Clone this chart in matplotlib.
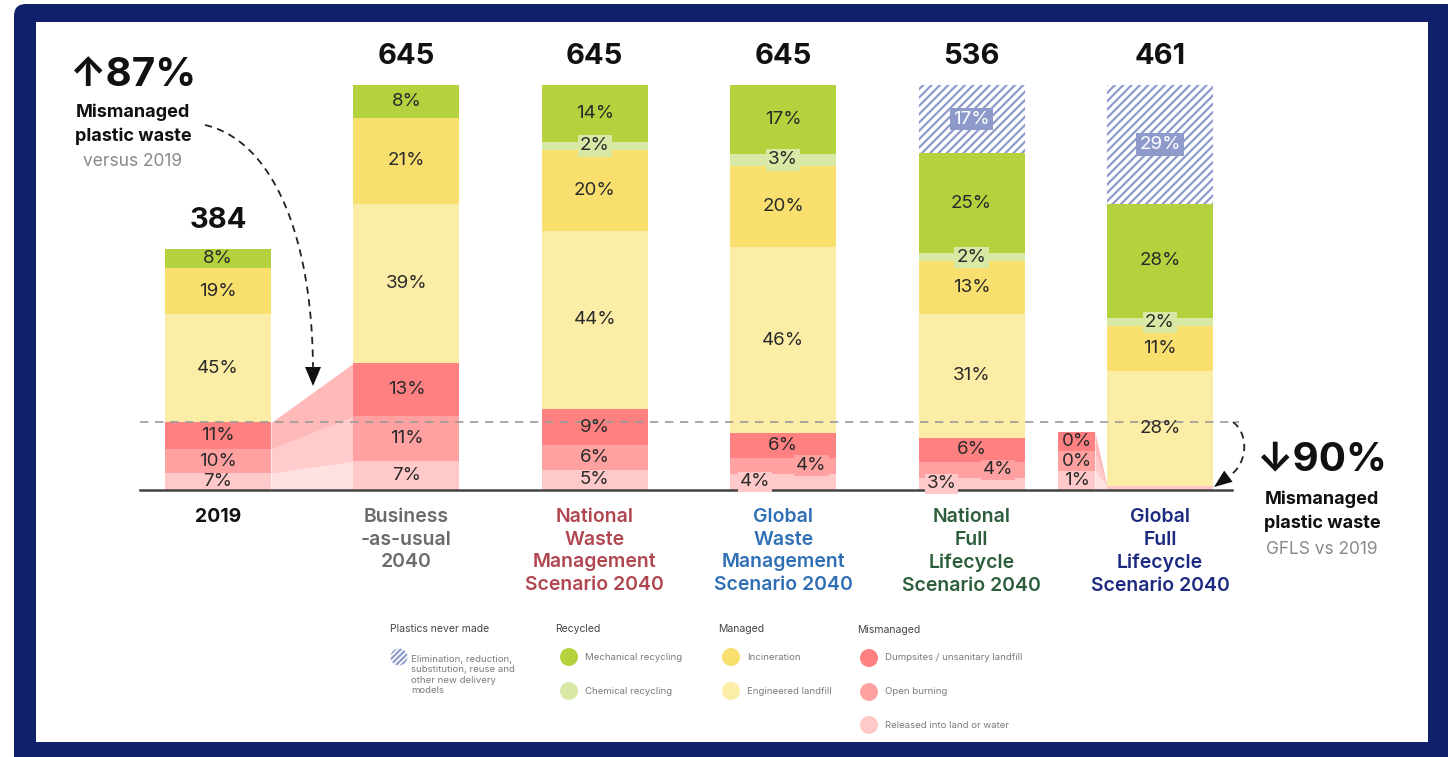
import numpy as np
import matplotlib
matplotlib.use('Agg')
import matplotlib.pyplot as plt
from matplotlib.patches import Rectangle, FancyBboxPatch, Circle, Polygon

plt.rcParams['font.family'] = ['Inter', 'DejaVu Sans']
plt.rcParams['hatch.linewidth'] = 1.6

# ---- data (percent of each bar, Mt totals) ----
categories = ['2019', 'Business\n-as-usual\n2040',
              'National\nWaste\nManagement\nScenario 2040',
              'Global\nWaste\nManagement\nScenario 2040',
              'National\nFull\nLifecycle\nScenario 2040',
              'Global\nFull\nLifecycle\nScenario 2040']
cat_colors = ['#111111', '#6b6b6b', '#b04650', '#2f6fb3', '#2d5e3c', '#1c2a80']
waste_totals = [384, 645, 645, 645, 536, 461]
bar_totals = [384, 645, 645, 645, 645, 645]   # incl. plastics never made

never_made = [0, 0, 0, 0, 17, 29]
mech = [8, 8, 14, 17, 25, 28]
chem = [0, 0, 2, 3, 2, 2]
incin = [19, 21, 20, 20, 13, 11]
landfill = [45, 39, 44, 46, 31, 28]
dumps = [11, 13, 9, 6, 6, 0]
burning = [10, 11, 6, 4, 4, 0]
released = [7, 7, 5, 4, 3, 1]

c_mech = '#b3d23e'
c_chem = '#d7e9a5'
c_incin = '#f8df6e'
c_landfill = '#fbeda6'
c_dumps = '#ff8080'
c_burning = '#ffa1a1'
c_released = '#ffc9c9'
c_hatch = '#8e9bca'

W, H = 1448, 757
fig = plt.figure(figsize=(W / 100, H / 100), dpi=100)

# frame
bg = fig.add_axes([0, 0, 1, 1], zorder=0)
bg.set_xlim(0, W)
bg.set_ylim(H, 0)
bg.axis('off')
bg.add_patch(FancyBboxPatch((14, 4), 1460, 780, boxstyle='round,pad=0,rounding_size=12',
                            fc='#10206a', ec='none'))
bg.add_patch(Rectangle((36, 22), 1392, 720, fc='white', ec='none'))

# main chart
ax = fig.add_axes([140 / W, (H - 490) / H, (1232 - 140) / W, (490 - 40) / H], zorder=1)
ax.patch.set_alpha(0)
x = np.arange(len(categories))
bw = 0.563

layers = [('released', released, c_released), ('burning', burning, c_burning),
          ('dumps', dumps, c_dumps), ('landfill', landfill, c_landfill),
          ('incin', incin, c_incin), ('chem', chem, c_chem),
          ('mech', mech, c_mech), ('never', never_made, 'white')]

col_sum = np.zeros(len(x))
for _, vals, _ in layers:
    col_sum += np.array(vals)

# label nudges for crowded small segments (dx in bar units)
nudge = {(3, 'burning'): 0.15, (3, 'released'): -0.15,
         (4, 'burning'): 0.14, (4, 'released'): -0.16}

bottom = np.zeros(len(x))
bounds = {}
for name, vals, color in layers:
    h = np.array(vals) / col_sum * np.array(bar_totals)
    if name == 'never':
        ax.bar(x, h, bottom=bottom, width=bw, facecolor='white', edgecolor=c_hatch,
               hatch='////', linewidth=0)
    else:
        ax.bar(x, h, bottom=bottom, width=bw, color=color, linewidth=0)
    for i in x:
        if vals[i] == 0 or (i == 5 and name in ('released', 'burning', 'dumps')):
            continue
        kw = dict(ha='center', va='center', fontsize=13.5, color='#2a2a2a')
        if name == 'chem':
            kw['bbox'] = dict(boxstyle='square,pad=0.12', fc=c_chem, ec='none')
        if name == 'never':
            kw['color'] = 'white'
            kw['bbox'] = dict(boxstyle='square,pad=0.15', fc=c_hatch, ec='none')
        dx = nudge.get((i, name), 0)
        if dx:
            kw['bbox'] = dict(boxstyle='square,pad=0.1', fc=color, ec='none')
        ax.text(i + dx, bottom[i] + h[i] / 2, f'{vals[i]}%', **kw)
    bounds[name] = (bottom.copy(), bottom + h)
    bottom = bottom + h

# totals above bars
for i in x:
    ax.text(i, bar_totals[i] + 33, str(waste_totals[i]), ha='center', va='baseline',
            fontsize=21, fontweight='bold', color='#111111')

# connector 2019 -> BAU for mismanaged layers
xa, xb = 0 + bw / 2, 1 - bw / 2
for name, col in [('released', c_released), ('burning', c_burning), ('dumps', c_dumps)]:
    lo, hi = bounds[name]
    ax.fill_between([xa, xb], [lo[0], lo[1]], [hi[0], hi[1]], color=col, alpha=0.55, lw=0)

# magnified callout of GFLS mismanaged
cx, cw, ch = 4.557, 0.196, 92
xc1, xc2 = cx + cw / 2, 5 - bw / 2
for k, (name, col) in enumerate([('released', c_released), ('burning', c_burning), ('dumps', c_dumps)]):
    vals = dict(released=released, burning=burning, dumps=dumps)[name]
    ax.bar(cx, ch / 3, bottom=k * ch / 3, width=cw, color=col, linewidth=0)
    ax.text(cx, k * ch / 3 + ch / 6, f'{vals[5]}%', ha='center', va='center',
            fontsize=13.5, color='#2a2a2a')
    lo, hi = bounds[name]
    ax.fill_between([xc1, xc2], [k * ch / 3, lo[5]], [(k + 1) * ch / 3, hi[5]],
                    color=col, alpha=0.55, lw=0)

# dashed 2019 mismanaged level
lvl = bounds['dumps'][1][0]
ax.plot([-0.414, 5.42], [lvl, lvl], color='#9a9a9a', lw=1.2, dashes=(5, 4), clip_on=False)

ax.set_xlim(-0.414, 5.382)
ax.set_ylim(0, 716.7)
ax.set_xticks(x, categories)
ax.tick_params(axis='x', length=0, pad=13, labelsize=14)
for lab, c in zip(ax.get_xticklabels(), cat_colors):
    lab.set_color(c)
    lab.set_fontweight('semibold')
    lab.set_linespacing(1.33)
ax.get_xticklabels()[0].set_fontweight('bold')
ax.set_yticks([])
for s in ['top', 'left', 'right']:
    ax.spines[s].set_visible(False)
ax.spines['bottom'].set_color('#444444')
ax.spines['bottom'].set_linewidth(1.8)

# overlay annotations
ov = fig.add_axes([0, 0, 1, 1], zorder=2)
ov.set_xlim(0, W)
ov.set_ylim(H, 0)
ov.axis('off')
ov.patch.set_alpha(0)

ov.text(133, 76, '↑87%', ha='center', va='center', fontsize=29, fontweight='bold', color='#111111')
ov.text(133, 112, 'Mismanaged', ha='center', va='center', fontsize=13, fontweight='bold', color='#111111')
ov.text(133, 136, 'plastic waste', ha='center', va='center', fontsize=13, fontweight='bold', color='#111111')
ov.text(133, 161, 'versus 2019', ha='center', va='center', fontsize=12.5, color='#8a8a8a')

ov.text(1321, 460, '↓90%', ha='center', va='center', fontsize=29, fontweight='bold', color='#111111')
ov.text(1322, 499, 'Mismanaged', ha='center', va='center', fontsize=13, fontweight='bold', color='#111111')
ov.text(1322, 523, 'plastic waste', ha='center', va='center', fontsize=13, fontweight='bold', color='#111111')
ov.text(1322, 549, 'GFLS vs 2019', ha='center', va='center', fontsize=12.5, color='#8a8a8a')

# curved dashed arrows
def bez(p0, p1, p2, p3, n=60):
    t = np.linspace(0, 1, n)[:, None]
    p0, p1, p2, p3 = map(np.array, (p0, p1, p2, p3))
    return (1 - t) ** 3 * p0 + 3 * (1 - t) ** 2 * t * p1 + 3 * (1 - t) * t ** 2 * p2 + t ** 3 * p3

c1 = bez((205, 125), (270, 140), (312, 230), (313, 368))
ov.plot(c1[:, 0], c1[:, 1], color='#222222', lw=1.3, dashes=(4, 3))
ov.add_patch(Polygon([(305, 367), (321, 367), (313, 386)], closed=True, fc='#111111', ec='none'))

c2 = bez((1233, 422), (1250, 435), (1247, 465), (1229, 476))
ov.plot(c2[:, 0], c2[:, 1], color='#222222', lw=1.3, dashes=(4, 3))
d = np.array([-0.8, 0.6])
tip = np.array([1214, 487])
base = tip - 18 * d
perp = np.array([0.6, 0.8]) * 7
ov.add_patch(Polygon([tip, base + perp, base - perp], closed=True, fc='#111111', ec='none'))

# legend
hdr = dict(fontsize=7.5, color='#444444', va='center', ha='left')
itm = dict(fontsize=6.9, color='#7a7a7a', va='center', ha='left')
ov.text(390, 629, 'Plastics never made', **hdr)
ov.text(555, 629, 'Recycled', **hdr)
ov.text(718, 629, 'Managed', **hdr)
ov.text(857, 630, 'Mismanaged', **hdr)

ov.add_patch(Circle((399, 657), 8.5, fc='white', ec=c_hatch, hatch='//////', lw=0))
ov.text(411, 675, 'Elimination, reduction,\nsubstitution, reuse and\nother new delivery\nmodels',
        linespacing=1.2, **itm)

leg_items = [(569, 657, c_mech, 'Mechanical recycling'), (569, 691, c_chem, 'Chemical recycling'),
             (731, 657, c_incin, 'Incineration'), (731, 691, c_landfill, 'Engineered landfill'),
             (869, 658, c_dumps, 'Dumpsites / unsanitary landfill'),
             (869, 692, c_burning, 'Open burning'), (869, 725, c_released, 'Released into land or water')]
for cxp, cyp, col, txt in leg_items:
    ov.add_patch(Circle((cxp, cyp), 9, fc=col, ec='none'))
    ov.text(cxp + 16, cyp, txt, **itm)

fig.savefig('out.png', dpi=100, facecolor='white')
